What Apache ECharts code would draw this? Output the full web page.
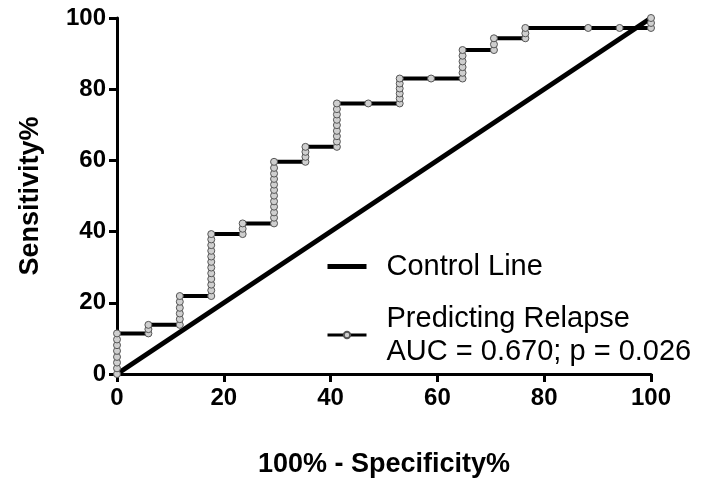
<!DOCTYPE html>
<html>
<head>
<meta charset="utf-8">
<script src="https://cdn.jsdelivr.net/npm/echarts@6/dist/echarts.min.js"></script>
<style>
html,body{margin:0;padding:0;background:#fff;}
#chart{width:701px;height:485px;}
</style>
</head>
<body>
<div id="chart"></div>
<script>
// Tick labels
var xTicks = [0, 20, 40, 60, 80, 100];
var yTicks = [0, 20, 40, 60, 80, 100];

// Control (chance) line
var controlX = [0, 100];
var controlY = [0, 100];

// ROC curve: 100% - Specificity% (x) and Sensitivity% (y), one entry per plotted point
var rocX = [
  0, 0, 0, 0, 0, 0, 0, 0,
  5.88, 5.88, 5.88,
  11.76, 11.76, 11.76, 11.76, 11.76, 11.76,
  17.65, 17.65, 17.65, 17.65, 17.65, 17.65, 17.65, 17.65, 17.65, 17.65, 17.65, 17.65,
  23.53, 23.53, 23.53,
  29.41, 29.41, 29.41, 29.41, 29.41, 29.41, 29.41, 29.41, 29.41, 29.41, 29.41, 29.41,
  35.29, 35.29, 35.29, 35.29,
  41.18, 41.18, 41.18, 41.18, 41.18, 41.18, 41.18, 41.18, 41.18,
  47.06,
  52.94, 52.94, 52.94, 52.94, 52.94, 52.94,
  58.82,
  64.71, 64.71, 64.71, 64.71, 64.71, 64.71,
  70.59, 70.59, 70.59,
  76.47, 76.47, 76.47,
  88.24,
  94.12,
  100, 100, 100
];
var rocY = [
  0, 1.6, 3.2, 4.8, 6.5, 8.1, 9.7, 11.4,
  11.4, 12.6, 13.8,
  13.8, 15.4, 17.0, 18.6, 20.3, 21.9,
  21.9, 23.5, 25.1, 26.7, 28.3, 29.9, 31.5, 33.0, 34.6, 36.2, 37.8, 39.3,
  39.3, 40.8, 42.3,
  42.3, 43.9, 45.4, 47.0, 48.5, 50.1, 51.7, 53.2, 54.8, 56.3, 57.9, 59.6,
  59.6, 61.0, 62.4, 63.8,
  63.8, 65.3, 66.8, 68.3, 69.9, 71.4, 72.9, 74.4, 76.0,
  76.0,
  76.0, 77.4, 78.8, 80.2, 81.6, 83.0,
  83.0,
  83.0, 84.6, 86.2, 87.8, 89.4, 91.0,
  91.0, 92.6, 94.3,
  94.3, 95.7, 97.2,
  97.2,
  97.2,
  97.2, 98.6, 100
];

var seriesNames = ['Control Line', 'Predicting Relapse'];
var legendExtra = 'AUC = 0.670; p = 0.026';
var xTitle = '100% - Specificity%';
var yTitle = 'Sensitivity%';

function pairs(xs, ys) {
  var out = [];
  for (var i = 0; i < xs.length; i++) out.push([xs[i], ys[i]]);
  return out;
}

var FONT = '"Liberation Sans", Arial, Helvetica, sans-serif';
var chart = echarts.init(document.getElementById('chart'), null, {renderer: 'canvas'});

var axisCommon = {
  type: 'value',
  min: xTicks[0],
  max: xTicks[xTicks.length - 1],
  interval: xTicks[1] - xTicks[0],
  axisLine: {show: true, onZero: false, lineStyle: {color: '#000', width: 3}},
  axisTick: {show: true, inside: false, length: 8, lineStyle: {color: '#000', width: 3}},
  splitLine: {show: false},
  nameTextStyle: {color: '#000', fontWeight: 'bold', fontSize: 27, fontFamily: FONT},
  axisLabel: {color: '#000', fontWeight: 'bold', fontSize: 24, fontFamily: FONT}
};

var option = {
  backgroundColor: '#fff',
  animation: false,
  grid: {left: 117, right: 50, top: 18, bottom: 111, containLabel: false},
  xAxis: Object.assign({}, axisCommon, {
    name: xTitle,
    nameLocation: 'middle',
    nameGap: 77,
    axisLabel: Object.assign({}, axisCommon.axisLabel, {margin: 12})
  }),
  yAxis: Object.assign({}, axisCommon, {
    min: yTicks[0],
    max: yTicks[yTicks.length - 1],
    interval: yTicks[1] - yTicks[0],
    name: yTitle,
    nameLocation: 'middle',
    nameGap: 73,
    axisLabel: Object.assign({}, axisCommon.axisLabel, {margin: 11})
  }),
  legend: {
    orient: 'vertical',
    left: 320,
    top: 245,
    itemWidth: 39,
    itemHeight: 8,
    itemGap: 19,
    selectedMode: false,
    data: [
      {name: seriesNames[0], itemStyle: {opacity: 0}, lineStyle: {width: 5, color: '#000'}},
      {name: seriesNames[1], lineStyle: {width: 3, color: '#000'}}
    ],
    formatter: function (name) {
      return name === seriesNames[1] ? name + '\n' + legendExtra : name;
    },
    textStyle: {color: '#000', fontSize: 29, fontFamily: FONT, lineHeight: 33, padding: [0, 0, 0, 15]}
  },
  series: [
    {
      name: seriesNames[0],
      type: 'line',
      data: pairs(controlX, controlY),
      symbol: 'none',
      clip: false,
      z: 3,
      lineStyle: {color: '#000', width: 5},
      itemStyle: {color: '#000'}
    },
    {
      name: seriesNames[1],
      type: 'line',
      data: pairs(rocX, rocY),
      symbol: 'circle',
      symbolSize: 7,
      showAllSymbol: true,
      clip: false,
      z: 4,
      lineStyle: {color: '#000', width: 4},
      itemStyle: {color: '#cfcfcf', borderColor: '#555', borderWidth: 1}
    }
  ]
};
chart.setOption(option);
</script>
</body>
</html>
